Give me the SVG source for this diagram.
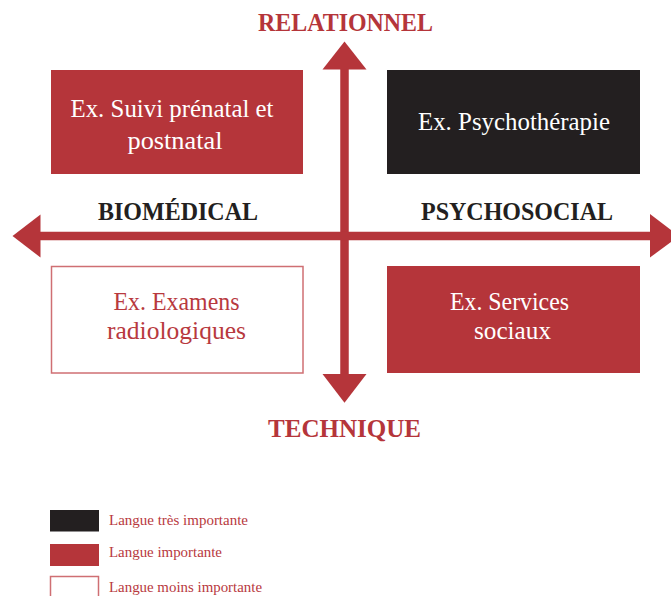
<svg xmlns="http://www.w3.org/2000/svg" width="671" height="596" viewBox="0 0 671 596">
<style>
  .red { fill: #b5353a; }
  .dark { fill: #231f20; }
  .outline { fill: #ffffff; stroke: #cf6f73; stroke-width: 1.5; }
  .axis { font-family: "Liberation Serif", "DejaVu Serif", serif; font-weight: bold; font-size: 25px; text-anchor: middle; }
  .box { font-family: "Liberation Serif", "DejaVu Serif", serif; font-size: 25px; text-anchor: middle; }
  .legend { font-family: "Liberation Serif", "DejaVu Serif", serif; font-size: 15px; fill: #b8393e; }
  .shaft { stroke: #b5353a; stroke-width: 8.5; fill: none; }
</style>

<g id="connectors">
  <line class="shaft" x1="344.5" y1="66" x2="344.5" y2="378"/>
  <line class="shaft" x1="36" y1="236" x2="654" y2="236"/>
  <polygon class="red" points="344.5,41.5 322.5,69.5 366.5,69.5"/>
  <polygon class="red" points="344.5,402.7 322.5,374 366.5,374"/>
  <polygon class="red" points="12.5,236 40.5,214.5 40.5,257.5"/>
  <polygon class="red" points="679,236 650,214 650,257.5"/>
</g>

<g id="label-relationnel">
  <text class="axis" x="345.5" y="30.5" fill="#b5353a" textLength="175" lengthAdjust="spacingAndGlyphs">RELATIONNEL</text>
</g>
<g id="label-technique">
  <text class="axis" x="344.5" y="436.5" fill="#b5353a" textLength="153" lengthAdjust="spacingAndGlyphs">TECHNIQUE</text>
</g>
<g id="label-biomedical">
  <text class="axis" x="178" y="220" fill="#231f20" textLength="160" lengthAdjust="spacingAndGlyphs">BIOMÉDICAL</text>
</g>
<g id="label-psychosocial">
  <text class="axis" x="517" y="220" fill="#231f20" textLength="192" lengthAdjust="spacingAndGlyphs">PSYCHOSOCIAL</text>
</g>

<g id="node-suivi">
  <rect class="red" x="51" y="70" width="252" height="104"/>
  <text class="box" x="172" y="116.5" fill="#ffffff" textLength="203" lengthAdjust="spacingAndGlyphs">Ex. Suivi prénatal et</text>
  <text class="box" x="175" y="149" fill="#ffffff" textLength="95" lengthAdjust="spacingAndGlyphs">postnatal</text>
</g>

<g id="node-psychotherapie">
  <rect class="dark" x="387" y="70" width="253" height="104"/>
  <text class="box" x="514" y="129.5" fill="#ffffff" textLength="192" lengthAdjust="spacingAndGlyphs">Ex. Psychothérapie</text>
</g>

<g id="node-examens">
  <rect class="outline" x="51.5" y="266.5" width="251.5" height="106.5"/>
  <text class="box" x="176.5" y="310" fill="#b8393e" textLength="126" lengthAdjust="spacingAndGlyphs">Ex. Examens</text>
  <text class="box" x="176.5" y="339" fill="#b8393e" textLength="139" lengthAdjust="spacingAndGlyphs">radiologiques</text>
</g>

<g id="node-services">
  <rect class="red" x="387" y="266" width="253" height="107"/>
  <text class="box" x="509.5" y="309.5" fill="#ffffff" textLength="119" lengthAdjust="spacingAndGlyphs">Ex. Services</text>
  <text class="box" x="512.5" y="339" fill="#ffffff" textLength="77" lengthAdjust="spacingAndGlyphs">sociaux</text>
</g>

<g id="legend">
  <rect class="dark" x="50" y="510" width="49" height="21.5"/>
  <text class="legend" x="109" y="525" textLength="139" lengthAdjust="spacingAndGlyphs">Langue très importante</text>
  <rect class="red" x="50" y="544" width="49" height="22"/>
  <text class="legend" x="109" y="556.5" textLength="113" lengthAdjust="spacingAndGlyphs">Langue importante</text>
  <rect class="outline" x="50.5" y="576.5" width="48" height="30"/>
  <text class="legend" x="109" y="591.5" textLength="153" lengthAdjust="spacingAndGlyphs">Langue moins importante</text>
</g>
</svg>
